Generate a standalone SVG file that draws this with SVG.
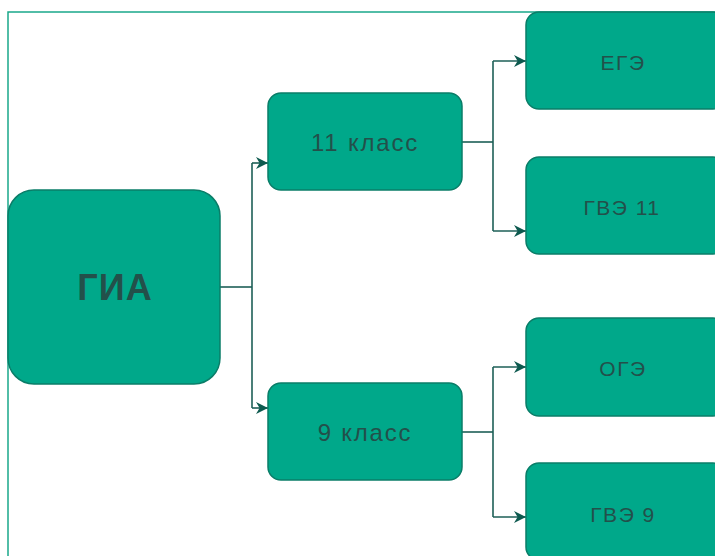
<svg xmlns="http://www.w3.org/2000/svg" width="715" height="556" viewBox="0 0 715 556">
<style>
.box{fill:#00a88a;stroke:#0a7d68;stroke-width:1.5}
.t{font-family:"Liberation Sans",Arial,sans-serif;fill:#23504a;text-anchor:middle;dominant-baseline:central}
.s{font-size:21px;letter-spacing:1.5px}
.m{font-size:24px;letter-spacing:1.8px}
.c{fill:none;stroke:#1d5f57;stroke-width:1.6}
</style>
<defs>
<marker id="ah" viewBox="0 0 10 10" refX="10" refY="5" markerWidth="14" markerHeight="12" markerUnits="userSpaceOnUse" orient="auto">
<path d="M0,0 L10,5 L0,10 L3,5 Z" fill="#0d5a4f"/>
</marker>
</defs>
<rect width="715" height="556" fill="#ffffff"/>
<path d="M8,556 V12 H715" fill="none" stroke="#1aa88a" stroke-width="1.5"/>
<g id="connectors">
<path class="c" d="M220,287 H252"/>
<path class="c" d="M252,163 V408"/>
<path class="c" d="M252,163 H268" marker-end="url(#ah)"/>
<path class="c" d="M252,408 H268" marker-end="url(#ah)"/>
<path class="c" d="M462,142 H493"/>
<path class="c" d="M493,61 V231"/>
<path class="c" d="M493,61 H526" marker-end="url(#ah)"/>
<path class="c" d="M493,231 H526" marker-end="url(#ah)"/>
<path class="c" d="M462,432 H493"/>
<path class="c" d="M493,367 V517"/>
<path class="c" d="M493,367 H526" marker-end="url(#ah)"/>
<path class="c" d="M493,517 H526" marker-end="url(#ah)"/>
</g>
<g id="gia"><rect class="box" x="8" y="190" width="212" height="194" rx="26"/><text class="t" x="115" y="287" font-size="36" font-weight="bold" letter-spacing="1">ГИА</text></g>
<g id="k11"><rect class="box" x="268" y="93" width="194" height="97" rx="13"/><text class="t m" x="365" y="142">11 класс</text></g>
<g id="k9"><rect class="box" x="268" y="383" width="194" height="97" rx="13"/><text class="t m" x="365" y="432">9 класс</text></g>
<g id="ege"><rect class="box" x="526" y="12" width="200" height="97" rx="13"/><text class="t s" x="623" y="62">ЕГЭ</text></g>
<g id="gve11"><rect class="box" x="526" y="157" width="200" height="97" rx="13"/><text class="t s" x="622" y="207">ГВЭ 11</text></g>
<g id="oge"><rect class="box" x="526" y="318" width="200" height="98" rx="13"/><text class="t s" x="623" y="368">ОГЭ</text></g>
<g id="gve9"><rect class="box" x="526" y="463" width="200" height="97" rx="13"/><text class="t s" x="623" y="514">ГВЭ 9</text></g>
</svg>
